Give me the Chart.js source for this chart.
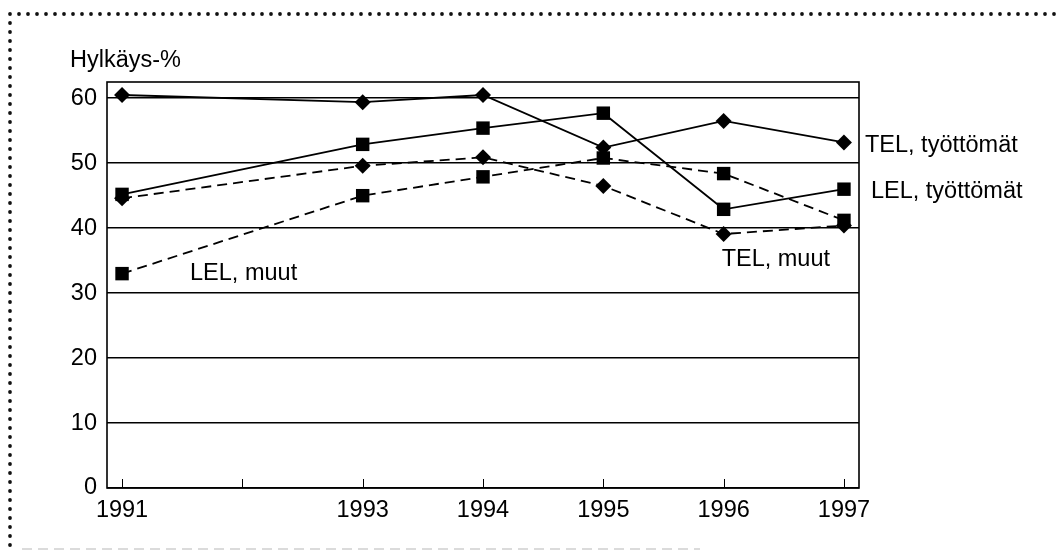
<!DOCTYPE html>
<html>
  <head>
    <meta charset="utf-8" />
    <title>Hylkäys-%</title>
    <script src="https://cdn.jsdelivr.net/npm/chart.js"></script>
    <style>
      html, body { margin: 0; padding: 0; background: #fff; }
      #wrap { position: relative; width: 1059px; height: 552px; }
    </style>
  </head>
  <body>
    <div id="wrap">
      <canvas id="chart" width="1059" height="552"></canvas>
    </div>
    <script type="text/javascript">
        // data
        var years = [1991, 1993, 1994, 1995, 1996, 1997]
        var xTicks = [1991, 1992, 1993, 1994, 1995, 1996, 1997]
        var xTickLabels = ['1991', '', '1993', '1994', '1995', '1996', '1997']
        var yTicks = [0, 10, 20, 30, 40, 50, 60]

        var telTyottomat = [60.5, 59.4, 60.5, 52.4, 56.5, 53.2]
        var lelTyottomat = [45.2, 52.9, 55.4, 57.7, 42.9, 46.0]
        var telMuut = [44.6, 49.6, 50.9, 46.5, 39.1, 40.4]
        var lelMuut = [33.0, 45.0, 47.9, 50.8, 48.4, 41.2]

        var seriesNames = ['TEL, työttömät', 'LEL, työttömät', 'TEL, muut', 'LEL, muut']

        var FONT = 'Liberation Sans, Arial, sans-serif'
        var FS = 23.5

        function pts(vals) {
            return vals.map(function (v, i) { return { x: years[i], y: v } })
        }

        function series(label, vals, shape, dashed) {
            return {
                label: label,
                data: pts(vals),
                borderColor: '#000',
                backgroundColor: '#000',
                borderWidth: 1.8,
                borderDash: dashed ? [10, 6] : [],
                pointStyle: shape,
                pointRadius: shape === 'rect' ? 9.5 : 8,
                pointBorderWidth: 0,
                tension: 0,
            }
        }

        // dotted frame round the figure, box round the plot, inner ticks, labels
        var decor = {
            id: 'decor',
            beforeDraw: function (chart) {
                var ctx = chart.ctx
                ctx.save()
                ctx.fillStyle = '#fff'
                ctx.fillRect(0, 0, chart.width, chart.height)
                ctx.fillStyle = '#111'
                for (var x = 10; x < chart.width; x += 9) {
                    ctx.beginPath(); ctx.arc(x, 14, 1.9, 0, Math.PI * 2); ctx.fill()
                }
                for (var y = 23; y < chart.height; y += 9) {
                    ctx.beginPath(); ctx.arc(10, y, 1.9, 0, Math.PI * 2); ctx.fill()
                }
                ctx.strokeStyle = '#d0d0d0'
                ctx.lineWidth = 1.5
                ctx.setLineDash([10, 6])
                ctx.beginPath(); ctx.moveTo(22, 549); ctx.lineTo(700, 549); ctx.stroke()
                ctx.restore()
            },
            beforeDatasetsDraw: function (chart) {
                var ctx = chart.ctx, a = chart.chartArea, xs = chart.scales.x
                ctx.save()
                ctx.strokeStyle = '#000'
                ctx.lineWidth = 1.6
                ctx.strokeRect(a.left, a.top, a.right - a.left, a.bottom - a.top)
                ctx.lineWidth = 1
                xTicks.forEach(function (t) {
                    var px = Math.round(xs.getPixelForValue(t)) + 0.5
                    ctx.beginPath(); ctx.moveTo(px, a.bottom); ctx.lineTo(px, a.bottom - 9); ctx.stroke()
                })
                ctx.fillStyle = '#000'
                ctx.font = FS + 'px ' + FONT
                ctx.textBaseline = 'middle'
                ctx.fillText('Hylkäys-%', 70, 61)
                ctx.restore()
            },
            afterDatasetsDraw: function (chart) {
                var ctx = chart.ctx, xs = chart.scales.x, ys = chart.scales.y
                ctx.save()
                ctx.fillStyle = '#000'
                ctx.font = FS + 'px ' + FONT
                ctx.textBaseline = 'middle'
                ctx.fillText(seriesNames[0], xs.getPixelForValue(1997) + 21, ys.getPixelForValue(telTyottomat[5]) + 3)
                ctx.fillText(seriesNames[1], xs.getPixelForValue(1997) + 27, ys.getPixelForValue(lelTyottomat[5]) + 2)
                ctx.fillText(seriesNames[2], xs.getPixelForValue(1996) - 2, ys.getPixelForValue(35.1))
                ctx.fillText(seriesNames[3], xs.getPixelForValue(1991) + 68, ys.getPixelForValue(33.0))
                ctx.restore()
            }
        }

        var ctx = document.getElementById('chart').getContext('2d')
        new Chart(ctx, {
            type: 'line',
            data: {
                datasets: [
                    series(seriesNames[0], telTyottomat, 'rectRot', false),
                    series(seriesNames[1], lelTyottomat, 'rect', false),
                    series(seriesNames[2], telMuut, 'rectRot', true),
                    series(seriesNames[3], lelMuut, 'rect', true),
                ]
            },
            options: {
                responsive: false,
                animation: false,
                layout: { padding: { top: 82, left: 0, right: 200, bottom: 0 } },
                plugins: {
                    legend: { display: false },
                    tooltip: { enabled: false },
                },
                scales: {
                    x: {
                        type: 'linear',
                        min: 1990.875,
                        max: 1997.125,
                        afterBuildTicks: function (s) {
                            s.ticks = xTicks.map(function (v) { return { value: v } })
                        },
                        afterFit: function (s) { s.height = 64 },
                        grid: { display: false, drawTicks: false },
                        border: { display: false },
                        ticks: {
                            autoSkip: false,
                            maxRotation: 0,
                            padding: 8,
                            color: '#000',
                            font: { family: FONT, size: FS },
                            callback: function (v) {
                                return xTickLabels[xTicks.indexOf(v)]
                            }
                        }
                    },
                    y: {
                        min: 0,
                        max: 62.5,
                        afterBuildTicks: function (s) {
                            s.ticks = yTicks.map(function (v) { return { value: v } })
                        },
                        afterFit: function (s) { s.width = 107 },
                        grid: { color: '#000', lineWidth: 1.5, drawTicks: false },
                        border: { display: false },
                        ticks: {
                            padding: 10,
                            color: '#000',
                            font: { family: FONT, size: FS },
                        }
                    }
                }
            },
            plugins: [decor]
        })
    </script>
  </body>
</html>
